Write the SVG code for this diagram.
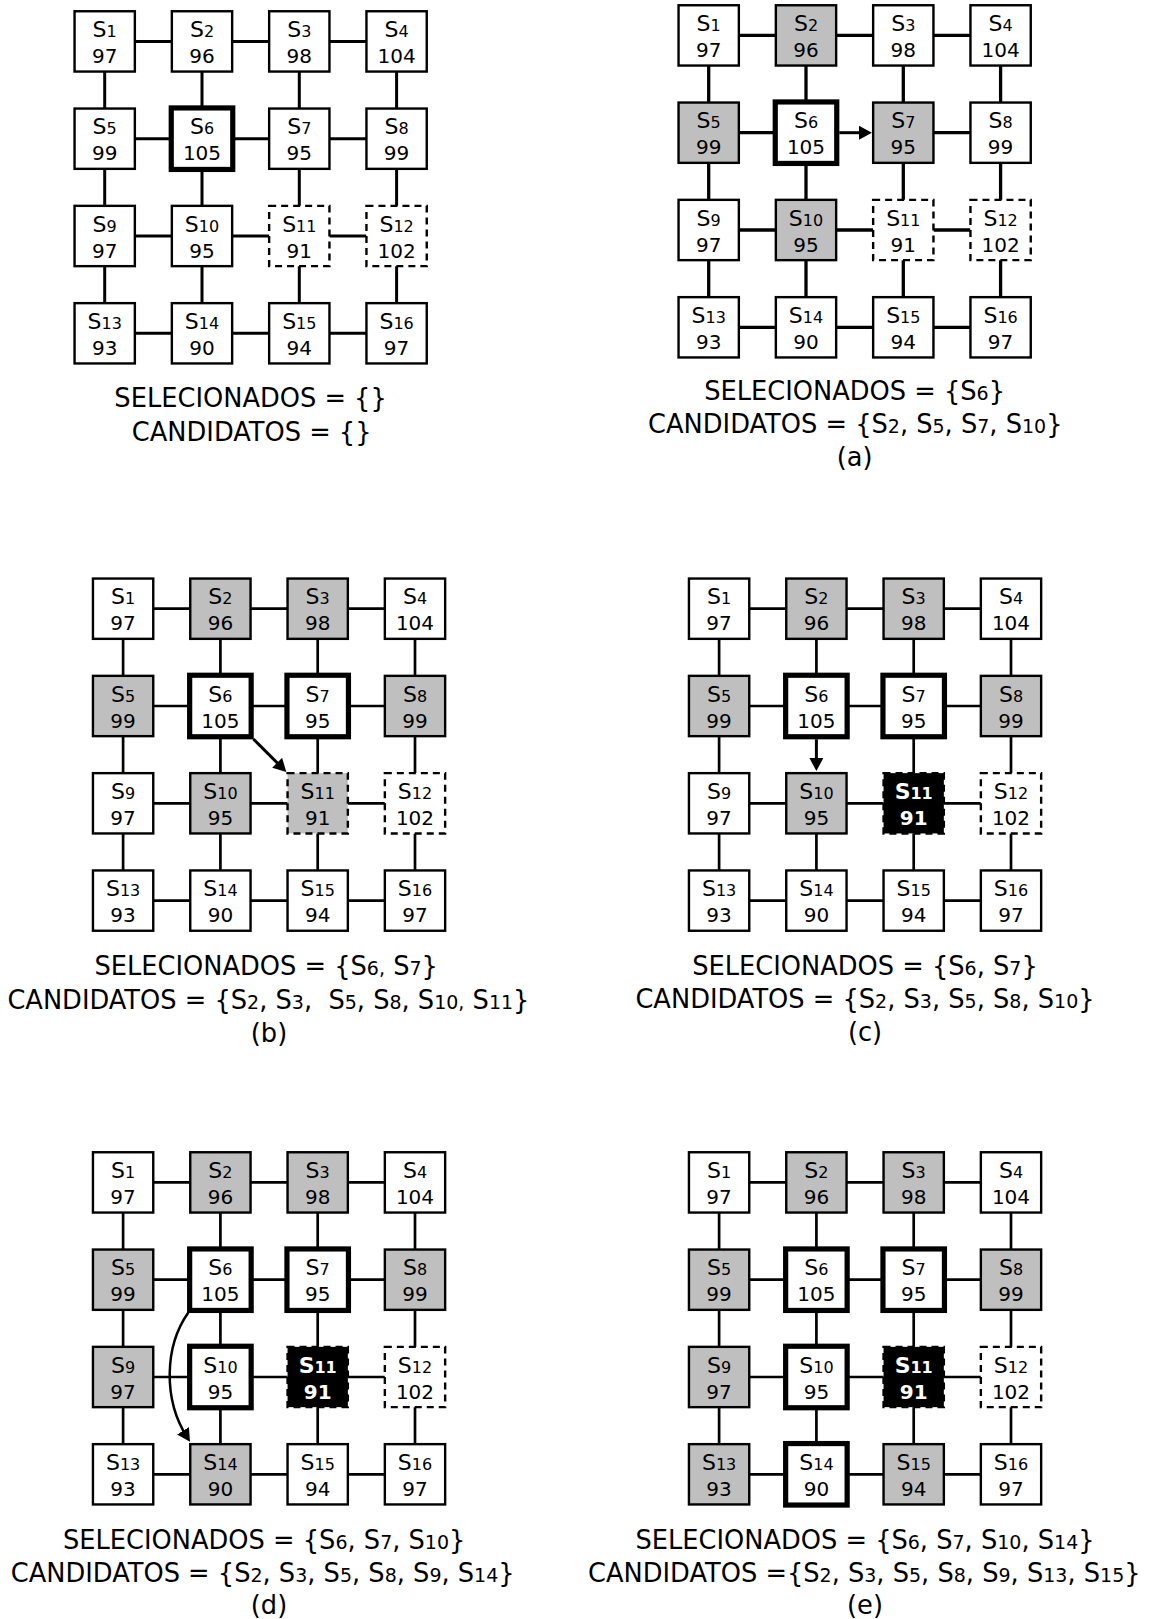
<svg xmlns="http://www.w3.org/2000/svg" width="1153" height="1619" viewBox="0 0 1153 1619">
<defs>
<style>
text{font-family:"DejaVu Sans","Liberation Sans",sans-serif;text-anchor:middle;fill:#000}
.l{font-size:22px}
.sb{font-size:16px}
.v{font-size:20px}
.n rect{fill:#fff;stroke:#000;stroke-width:2.4}
.g rect{fill:#bfbfbf;stroke:#000;stroke-width:2.4}
.t rect{fill:#fff;stroke:#000;stroke-width:5.2}
.d rect{fill:#fff;stroke:#000;stroke-width:2.4;stroke-dasharray:7 5}
.dg rect{fill:#bfbfbf;stroke:#000;stroke-width:2.4;stroke-dasharray:7 5}
.k rect{fill:#000;stroke:#000;stroke-width:2.4;stroke-dasharray:7 5}
.k text{fill:#fff;font-weight:bold}
.e line{stroke:#000;stroke-width:2.7}
.e0 line{stroke-width:3}
.ea line{stroke-width:3.3}
.arr{stroke:#000;stroke-width:3;fill:none;marker-end:url(#ah)}
.cap{font-size:25.7px;white-space:pre}
.cs{font-size:19px}
</style>
<marker id="ah" markerUnits="userSpaceOnUse" markerWidth="13" markerHeight="14" viewBox="0 0 13 14" refX="8" refY="7" orient="auto"><path d="M0,0 L13,7 L0,14 z" fill="#000"/></marker>
</defs>

<!-- ========== Panel 0 ========== -->
<g id="panel0" transform="translate(73.3,10)">
<g id="p0-connectors" class="e e0">
<line x1="61.55" y1="31.4" x2="98.55" y2="31.4"/><line x1="158.85" y1="31.4" x2="195.85" y2="31.4"/><line x1="256.15" y1="31.4" x2="293.15" y2="31.4"/>
<line x1="61.55" y1="128.7" x2="98.55" y2="128.7"/><line x1="158.85" y1="128.7" x2="195.85" y2="128.7"/><line x1="256.15" y1="128.7" x2="293.15" y2="128.7"/>
<line x1="61.55" y1="226" x2="98.55" y2="226"/><line x1="158.85" y1="226" x2="195.85" y2="226"/><line x1="256.15" y1="226" x2="293.15" y2="226"/>
<line x1="61.55" y1="323.3" x2="98.55" y2="323.3"/><line x1="158.85" y1="323.3" x2="195.85" y2="323.3"/><line x1="256.15" y1="323.3" x2="293.15" y2="323.3"/>
<line x1="31.4" y1="61.55" x2="31.4" y2="98.55"/><line x1="31.4" y1="158.85" x2="31.4" y2="195.85"/><line x1="31.4" y1="256.15" x2="31.4" y2="293.15"/>
<line x1="128.7" y1="61.55" x2="128.7" y2="98.55"/><line x1="128.7" y1="158.85" x2="128.7" y2="195.85"/><line x1="128.7" y1="256.15" x2="128.7" y2="293.15"/>
<line x1="226" y1="61.55" x2="226" y2="98.55"/><line x1="226" y1="158.85" x2="226" y2="195.85"/><line x1="226" y1="256.15" x2="226" y2="293.15"/>
<line x1="323.3" y1="61.55" x2="323.3" y2="98.55"/><line x1="323.3" y1="158.85" x2="323.3" y2="195.85"/><line x1="323.3" y1="256.15" x2="323.3" y2="293.15"/>
</g>
<g id="p0-s1" class="n" transform="translate(0,0)"><rect x="1.25" y="1.25" width="60.3" height="60.3"/><text class="l" x="31.4" y="27.2">S<tspan class="sb">1</tspan></text><text class="v" x="31.4" y="53.1">97</text></g>
<g id="p0-s2" class="n" transform="translate(97.3,0)"><rect x="1.25" y="1.25" width="60.3" height="60.3"/><text class="l" x="31.4" y="27.2">S<tspan class="sb">2</tspan></text><text class="v" x="31.4" y="53.1">96</text></g>
<g id="p0-s3" class="n" transform="translate(194.6,0)"><rect x="1.25" y="1.25" width="60.3" height="60.3"/><text class="l" x="31.4" y="27.2">S<tspan class="sb">3</tspan></text><text class="v" x="31.4" y="53.1">98</text></g>
<g id="p0-s4" class="n" transform="translate(291.9,0)"><rect x="1.25" y="1.25" width="60.3" height="60.3"/><text class="l" x="31.4" y="27.2">S<tspan class="sb">4</tspan></text><text class="v" x="31.4" y="53.1">104</text></g>
<g id="p0-s5" class="n" transform="translate(0,97.3)"><rect x="1.25" y="1.25" width="60.3" height="60.3"/><text class="l" x="31.4" y="27.2">S<tspan class="sb">5</tspan></text><text class="v" x="31.4" y="53.1">99</text></g>
<g id="p0-s6" class="t" transform="translate(97.3,97.3)"><rect x="0.65" y="0.65" width="61.5" height="61.5"/><text class="l" x="31.4" y="27.2">S<tspan class="sb">6</tspan></text><text class="v" x="31.4" y="53.1">105</text></g>
<g id="p0-s7" class="n" transform="translate(194.6,97.3)"><rect x="1.25" y="1.25" width="60.3" height="60.3"/><text class="l" x="31.4" y="27.2">S<tspan class="sb">7</tspan></text><text class="v" x="31.4" y="53.1">95</text></g>
<g id="p0-s8" class="n" transform="translate(291.9,97.3)"><rect x="1.25" y="1.25" width="60.3" height="60.3"/><text class="l" x="31.4" y="27.2">S<tspan class="sb">8</tspan></text><text class="v" x="31.4" y="53.1">99</text></g>
<g id="p0-s9" class="n" transform="translate(0,194.6)"><rect x="1.25" y="1.25" width="60.3" height="60.3"/><text class="l" x="31.4" y="27.2">S<tspan class="sb">9</tspan></text><text class="v" x="31.4" y="53.1">97</text></g>
<g id="p0-s10" class="n" transform="translate(97.3,194.6)"><rect x="1.25" y="1.25" width="60.3" height="60.3"/><text class="l" x="31.4" y="27.2">S<tspan class="sb">10</tspan></text><text class="v" x="31.4" y="53.1">95</text></g>
<g id="p0-s11" class="d" transform="translate(194.6,194.6)"><rect x="1.25" y="1.25" width="60.3" height="60.3"/><text class="l" x="31.4" y="27.2">S<tspan class="sb">11</tspan></text><text class="v" x="31.4" y="53.1">91</text></g>
<g id="p0-s12" class="d" transform="translate(291.9,194.6)"><rect x="1.25" y="1.25" width="60.3" height="60.3"/><text class="l" x="31.4" y="27.2">S<tspan class="sb">12</tspan></text><text class="v" x="31.4" y="53.1">102</text></g>
<g id="p0-s13" class="n" transform="translate(0,291.9)"><rect x="1.25" y="1.25" width="60.3" height="60.3"/><text class="l" x="31.4" y="27.2">S<tspan class="sb">13</tspan></text><text class="v" x="31.4" y="53.1">93</text></g>
<g id="p0-s14" class="n" transform="translate(97.3,291.9)"><rect x="1.25" y="1.25" width="60.3" height="60.3"/><text class="l" x="31.4" y="27.2">S<tspan class="sb">14</tspan></text><text class="v" x="31.4" y="53.1">90</text></g>
<g id="p0-s15" class="n" transform="translate(194.6,291.9)"><rect x="1.25" y="1.25" width="60.3" height="60.3"/><text class="l" x="31.4" y="27.2">S<tspan class="sb">15</tspan></text><text class="v" x="31.4" y="53.1">94</text></g>
<g id="p0-s16" class="n" transform="translate(291.9,291.9)"><rect x="1.25" y="1.25" width="60.3" height="60.3"/><text class="l" x="31.4" y="27.2">S<tspan class="sb">16</tspan></text><text class="v" x="31.4" y="53.1">97</text></g>
<g id="p0-caption">
<text class="cap" x="177.3" y="397.3">SELECIONADOS = {}</text>
<text class="cap" x="178.4" y="430.7">CANDIDATOS = {}</text>
</g>
</g>

<!-- ========== Panel a ========== -->
<g id="panelA" transform="translate(677.3,4)">
<g id="pa-connectors" class="e ea">
<line x1="61.55" y1="31.4" x2="98.55" y2="31.4"/><line x1="158.85" y1="31.4" x2="195.85" y2="31.4"/><line x1="256.15" y1="31.4" x2="293.15" y2="31.4"/>
<line x1="61.55" y1="128.7" x2="98.55" y2="128.7"/><line x1="256.15" y1="128.7" x2="293.15" y2="128.7"/>
<line x1="61.55" y1="226" x2="98.55" y2="226"/><line x1="158.85" y1="226" x2="195.85" y2="226"/><line x1="256.15" y1="226" x2="293.15" y2="226"/>
<line x1="61.55" y1="323.3" x2="98.55" y2="323.3"/><line x1="158.85" y1="323.3" x2="195.85" y2="323.3"/><line x1="256.15" y1="323.3" x2="293.15" y2="323.3"/>
<line x1="31.4" y1="61.55" x2="31.4" y2="98.55"/><line x1="31.4" y1="158.85" x2="31.4" y2="195.85"/><line x1="31.4" y1="256.15" x2="31.4" y2="293.15"/>
<line x1="128.7" y1="61.55" x2="128.7" y2="98.55"/><line x1="128.7" y1="158.85" x2="128.7" y2="195.85"/><line x1="128.7" y1="256.15" x2="128.7" y2="293.15"/>
<line x1="226" y1="61.55" x2="226" y2="98.55"/><line x1="226" y1="158.85" x2="226" y2="195.85"/><line x1="226" y1="256.15" x2="226" y2="293.15"/>
<line x1="323.3" y1="61.55" x2="323.3" y2="98.55"/><line x1="323.3" y1="158.85" x2="323.3" y2="195.85"/><line x1="323.3" y1="256.15" x2="323.3" y2="293.15"/>
<path id="pa-arrow-s6-s7" class="arr" d="M162,128.7 L189.6,128.7"/>
</g>
<g id="pa-s1" class="n" transform="translate(0,0)"><rect x="1.25" y="1.25" width="60.3" height="60.3"/><text class="l" x="31.4" y="27.2">S<tspan class="sb">1</tspan></text><text class="v" x="31.4" y="53.1">97</text></g>
<g id="pa-s2" class="g" transform="translate(97.3,0)"><rect x="1.25" y="1.25" width="60.3" height="60.3"/><text class="l" x="31.4" y="27.2">S<tspan class="sb">2</tspan></text><text class="v" x="31.4" y="53.1">96</text></g>
<g id="pa-s3" class="n" transform="translate(194.6,0)"><rect x="1.25" y="1.25" width="60.3" height="60.3"/><text class="l" x="31.4" y="27.2">S<tspan class="sb">3</tspan></text><text class="v" x="31.4" y="53.1">98</text></g>
<g id="pa-s4" class="n" transform="translate(291.9,0)"><rect x="1.25" y="1.25" width="60.3" height="60.3"/><text class="l" x="31.4" y="27.2">S<tspan class="sb">4</tspan></text><text class="v" x="31.4" y="53.1">104</text></g>
<g id="pa-s5" class="g" transform="translate(0,97.3)"><rect x="1.25" y="1.25" width="60.3" height="60.3"/><text class="l" x="31.4" y="27.2">S<tspan class="sb">5</tspan></text><text class="v" x="31.4" y="53.1">99</text></g>
<g id="pa-s6" class="t" transform="translate(97.3,97.3)"><rect x="0.65" y="0.65" width="61.5" height="61.5"/><text class="l" x="31.4" y="27.2">S<tspan class="sb">6</tspan></text><text class="v" x="31.4" y="53.1">105</text></g>
<g id="pa-s7" class="g" transform="translate(194.6,97.3)"><rect x="1.25" y="1.25" width="60.3" height="60.3"/><text class="l" x="31.4" y="27.2">S<tspan class="sb">7</tspan></text><text class="v" x="31.4" y="53.1">95</text></g>
<g id="pa-s8" class="n" transform="translate(291.9,97.3)"><rect x="1.25" y="1.25" width="60.3" height="60.3"/><text class="l" x="31.4" y="27.2">S<tspan class="sb">8</tspan></text><text class="v" x="31.4" y="53.1">99</text></g>
<g id="pa-s9" class="n" transform="translate(0,194.6)"><rect x="1.25" y="1.25" width="60.3" height="60.3"/><text class="l" x="31.4" y="27.2">S<tspan class="sb">9</tspan></text><text class="v" x="31.4" y="53.1">97</text></g>
<g id="pa-s10" class="g" transform="translate(97.3,194.6)"><rect x="1.25" y="1.25" width="60.3" height="60.3"/><text class="l" x="31.4" y="27.2">S<tspan class="sb">10</tspan></text><text class="v" x="31.4" y="53.1">95</text></g>
<g id="pa-s11" class="d" transform="translate(194.6,194.6)"><rect x="1.25" y="1.25" width="60.3" height="60.3"/><text class="l" x="31.4" y="27.2">S<tspan class="sb">11</tspan></text><text class="v" x="31.4" y="53.1">91</text></g>
<g id="pa-s12" class="d" transform="translate(291.9,194.6)"><rect x="1.25" y="1.25" width="60.3" height="60.3"/><text class="l" x="31.4" y="27.2">S<tspan class="sb">12</tspan></text><text class="v" x="31.4" y="53.1">102</text></g>
<g id="pa-s13" class="n" transform="translate(0,291.9)"><rect x="1.25" y="1.25" width="60.3" height="60.3"/><text class="l" x="31.4" y="27.2">S<tspan class="sb">13</tspan></text><text class="v" x="31.4" y="53.1">93</text></g>
<g id="pa-s14" class="n" transform="translate(97.3,291.9)"><rect x="1.25" y="1.25" width="60.3" height="60.3"/><text class="l" x="31.4" y="27.2">S<tspan class="sb">14</tspan></text><text class="v" x="31.4" y="53.1">90</text></g>
<g id="pa-s15" class="n" transform="translate(194.6,291.9)"><rect x="1.25" y="1.25" width="60.3" height="60.3"/><text class="l" x="31.4" y="27.2">S<tspan class="sb">15</tspan></text><text class="v" x="31.4" y="53.1">94</text></g>
<g id="pa-s16" class="n" transform="translate(291.9,291.9)"><rect x="1.25" y="1.25" width="60.3" height="60.3"/><text class="l" x="31.4" y="27.2">S<tspan class="sb">16</tspan></text><text class="v" x="31.4" y="53.1">97</text></g>
<g id="pa-caption">
<text class="cap" x="177.3" y="396">SELECIONADOS = {S<tspan class="cs">6</tspan>}</text>
<text class="cap" x="178" y="429.3">CANDIDATOS = {S<tspan class="cs">2</tspan>, S<tspan class="cs">5</tspan>, S<tspan class="cs">7</tspan>, S<tspan class="cs">10</tspan>}</text>
<text class="cap" x="177.3" y="462">(a)</text>
</g>
</g>

<!-- ========== Panel b ========== -->
<g id="panelB" transform="translate(91.7,577.3)">
<g id="pb-connectors" class="e">
<line x1="61.55" y1="31.4" x2="98.55" y2="31.4"/><line x1="158.85" y1="31.4" x2="195.85" y2="31.4"/><line x1="256.15" y1="31.4" x2="293.15" y2="31.4"/>
<line x1="61.55" y1="128.7" x2="98.55" y2="128.7"/><line x1="158.85" y1="128.7" x2="195.85" y2="128.7"/><line x1="256.15" y1="128.7" x2="293.15" y2="128.7"/>
<line x1="61.55" y1="226" x2="98.55" y2="226"/><line x1="158.85" y1="226" x2="195.85" y2="226"/><line x1="256.15" y1="226" x2="293.15" y2="226"/>
<line x1="61.55" y1="323.3" x2="98.55" y2="323.3"/><line x1="158.85" y1="323.3" x2="195.85" y2="323.3"/><line x1="256.15" y1="323.3" x2="293.15" y2="323.3"/>
<line x1="31.4" y1="61.55" x2="31.4" y2="98.55"/><line x1="31.4" y1="158.85" x2="31.4" y2="195.85"/><line x1="31.4" y1="256.15" x2="31.4" y2="293.15"/>
<line x1="128.7" y1="61.55" x2="128.7" y2="98.55"/><line x1="128.7" y1="158.85" x2="128.7" y2="195.85"/><line x1="128.7" y1="256.15" x2="128.7" y2="293.15"/>
<line x1="226" y1="61.55" x2="226" y2="98.55"/><line x1="226" y1="158.85" x2="226" y2="195.85"/><line x1="226" y1="256.15" x2="226" y2="293.15"/>
<line x1="323.3" y1="61.55" x2="323.3" y2="98.55"/><line x1="323.3" y1="158.85" x2="323.3" y2="195.85"/><line x1="323.3" y1="256.15" x2="323.3" y2="293.15"/>
<path id="pb-arrow-s6-s11" class="arr" d="M161.7,161.7 L191.1,191.1"/>
</g>
<g id="pb-s1" class="n" transform="translate(0,0)"><rect x="1.25" y="1.25" width="60.3" height="60.3"/><text class="l" x="31.4" y="27.2">S<tspan class="sb">1</tspan></text><text class="v" x="31.4" y="53.1">97</text></g>
<g id="pb-s2" class="g" transform="translate(97.3,0)"><rect x="1.25" y="1.25" width="60.3" height="60.3"/><text class="l" x="31.4" y="27.2">S<tspan class="sb">2</tspan></text><text class="v" x="31.4" y="53.1">96</text></g>
<g id="pb-s3" class="g" transform="translate(194.6,0)"><rect x="1.25" y="1.25" width="60.3" height="60.3"/><text class="l" x="31.4" y="27.2">S<tspan class="sb">3</tspan></text><text class="v" x="31.4" y="53.1">98</text></g>
<g id="pb-s4" class="n" transform="translate(291.9,0)"><rect x="1.25" y="1.25" width="60.3" height="60.3"/><text class="l" x="31.4" y="27.2">S<tspan class="sb">4</tspan></text><text class="v" x="31.4" y="53.1">104</text></g>
<g id="pb-s5" class="g" transform="translate(0,97.3)"><rect x="1.25" y="1.25" width="60.3" height="60.3"/><text class="l" x="31.4" y="27.2">S<tspan class="sb">5</tspan></text><text class="v" x="31.4" y="53.1">99</text></g>
<g id="pb-s6" class="t" transform="translate(97.3,97.3)"><rect x="0.65" y="0.65" width="61.5" height="61.5"/><text class="l" x="31.4" y="27.2">S<tspan class="sb">6</tspan></text><text class="v" x="31.4" y="53.1">105</text></g>
<g id="pb-s7" class="t" transform="translate(194.6,97.3)"><rect x="0.65" y="0.65" width="61.5" height="61.5"/><text class="l" x="31.4" y="27.2">S<tspan class="sb">7</tspan></text><text class="v" x="31.4" y="53.1">95</text></g>
<g id="pb-s8" class="g" transform="translate(291.9,97.3)"><rect x="1.25" y="1.25" width="60.3" height="60.3"/><text class="l" x="31.4" y="27.2">S<tspan class="sb">8</tspan></text><text class="v" x="31.4" y="53.1">99</text></g>
<g id="pb-s9" class="n" transform="translate(0,194.6)"><rect x="1.25" y="1.25" width="60.3" height="60.3"/><text class="l" x="31.4" y="27.2">S<tspan class="sb">9</tspan></text><text class="v" x="31.4" y="53.1">97</text></g>
<g id="pb-s10" class="g" transform="translate(97.3,194.6)"><rect x="1.25" y="1.25" width="60.3" height="60.3"/><text class="l" x="31.4" y="27.2">S<tspan class="sb">10</tspan></text><text class="v" x="31.4" y="53.1">95</text></g>
<g id="pb-s11" class="dg" transform="translate(194.6,194.6)"><rect x="1.25" y="1.25" width="60.3" height="60.3"/><text class="l" x="31.4" y="27.2">S<tspan class="sb">11</tspan></text><text class="v" x="31.4" y="53.1">91</text></g>
<g id="pb-s12" class="d" transform="translate(291.9,194.6)"><rect x="1.25" y="1.25" width="60.3" height="60.3"/><text class="l" x="31.4" y="27.2">S<tspan class="sb">12</tspan></text><text class="v" x="31.4" y="53.1">102</text></g>
<g id="pb-s13" class="n" transform="translate(0,291.9)"><rect x="1.25" y="1.25" width="60.3" height="60.3"/><text class="l" x="31.4" y="27.2">S<tspan class="sb">13</tspan></text><text class="v" x="31.4" y="53.1">93</text></g>
<g id="pb-s14" class="n" transform="translate(97.3,291.9)"><rect x="1.25" y="1.25" width="60.3" height="60.3"/><text class="l" x="31.4" y="27.2">S<tspan class="sb">14</tspan></text><text class="v" x="31.4" y="53.1">90</text></g>
<g id="pb-s15" class="n" transform="translate(194.6,291.9)"><rect x="1.25" y="1.25" width="60.3" height="60.3"/><text class="l" x="31.4" y="27.2">S<tspan class="sb">15</tspan></text><text class="v" x="31.4" y="53.1">94</text></g>
<g id="pb-s16" class="n" transform="translate(291.9,291.9)"><rect x="1.25" y="1.25" width="60.3" height="60.3"/><text class="l" x="31.4" y="27.2">S<tspan class="sb">16</tspan></text><text class="v" x="31.4" y="53.1">97</text></g>
<g id="pb-caption">
<text class="cap" x="174.5" y="398.2">SELECIONADOS = {S<tspan class="cs">6,</tspan> S<tspan class="cs">7</tspan>}</text>
<text class="cap" x="176.7" y="431.7">CANDIDATOS = {S<tspan class="cs">2</tspan>, S<tspan class="cs">3</tspan>,  S<tspan class="cs">5</tspan>, S<tspan class="cs">8</tspan>, S<tspan class="cs">10,</tspan> S<tspan class="cs">11</tspan>}</text>
<text class="cap" x="177.3" y="464.7">(b)</text>
</g>
</g>

<!-- ========== Panel c ========== -->
<g id="panelC" transform="translate(687.7,577.3)">
<g id="pc-connectors" class="e">
<line x1="61.55" y1="31.4" x2="98.55" y2="31.4"/><line x1="158.85" y1="31.4" x2="195.85" y2="31.4"/><line x1="256.15" y1="31.4" x2="293.15" y2="31.4"/>
<line x1="61.55" y1="128.7" x2="98.55" y2="128.7"/><line x1="158.85" y1="128.7" x2="195.85" y2="128.7"/><line x1="256.15" y1="128.7" x2="293.15" y2="128.7"/>
<line x1="61.55" y1="226" x2="98.55" y2="226"/><line x1="158.85" y1="226" x2="195.85" y2="226"/><line x1="256.15" y1="226" x2="293.15" y2="226"/>
<line x1="61.55" y1="323.3" x2="98.55" y2="323.3"/><line x1="158.85" y1="323.3" x2="195.85" y2="323.3"/><line x1="256.15" y1="323.3" x2="293.15" y2="323.3"/>
<line x1="31.4" y1="61.55" x2="31.4" y2="98.55"/><line x1="31.4" y1="158.85" x2="31.4" y2="195.85"/><line x1="31.4" y1="256.15" x2="31.4" y2="293.15"/>
<line x1="128.7" y1="61.55" x2="128.7" y2="98.55"/><line x1="128.7" y1="256.15" x2="128.7" y2="293.15"/>
<line x1="226" y1="61.55" x2="226" y2="98.55"/><line x1="226" y1="158.85" x2="226" y2="195.85"/><line x1="226" y1="256.15" x2="226" y2="293.15"/>
<line x1="323.3" y1="61.55" x2="323.3" y2="98.55"/><line x1="323.3" y1="158.85" x2="323.3" y2="195.85"/><line x1="323.3" y1="256.15" x2="323.3" y2="293.15"/>
<path id="pc-arrow-s6-s10" class="arr" d="M128.7,162 L128.7,188.7"/>
</g>
<g id="pc-s1" class="n" transform="translate(0,0)"><rect x="1.25" y="1.25" width="60.3" height="60.3"/><text class="l" x="31.4" y="27.2">S<tspan class="sb">1</tspan></text><text class="v" x="31.4" y="53.1">97</text></g>
<g id="pc-s2" class="g" transform="translate(97.3,0)"><rect x="1.25" y="1.25" width="60.3" height="60.3"/><text class="l" x="31.4" y="27.2">S<tspan class="sb">2</tspan></text><text class="v" x="31.4" y="53.1">96</text></g>
<g id="pc-s3" class="g" transform="translate(194.6,0)"><rect x="1.25" y="1.25" width="60.3" height="60.3"/><text class="l" x="31.4" y="27.2">S<tspan class="sb">3</tspan></text><text class="v" x="31.4" y="53.1">98</text></g>
<g id="pc-s4" class="n" transform="translate(291.9,0)"><rect x="1.25" y="1.25" width="60.3" height="60.3"/><text class="l" x="31.4" y="27.2">S<tspan class="sb">4</tspan></text><text class="v" x="31.4" y="53.1">104</text></g>
<g id="pc-s5" class="g" transform="translate(0,97.3)"><rect x="1.25" y="1.25" width="60.3" height="60.3"/><text class="l" x="31.4" y="27.2">S<tspan class="sb">5</tspan></text><text class="v" x="31.4" y="53.1">99</text></g>
<g id="pc-s6" class="t" transform="translate(97.3,97.3)"><rect x="0.65" y="0.65" width="61.5" height="61.5"/><text class="l" x="31.4" y="27.2">S<tspan class="sb">6</tspan></text><text class="v" x="31.4" y="53.1">105</text></g>
<g id="pc-s7" class="t" transform="translate(194.6,97.3)"><rect x="0.65" y="0.65" width="61.5" height="61.5"/><text class="l" x="31.4" y="27.2">S<tspan class="sb">7</tspan></text><text class="v" x="31.4" y="53.1">95</text></g>
<g id="pc-s8" class="g" transform="translate(291.9,97.3)"><rect x="1.25" y="1.25" width="60.3" height="60.3"/><text class="l" x="31.4" y="27.2">S<tspan class="sb">8</tspan></text><text class="v" x="31.4" y="53.1">99</text></g>
<g id="pc-s9" class="n" transform="translate(0,194.6)"><rect x="1.25" y="1.25" width="60.3" height="60.3"/><text class="l" x="31.4" y="27.2">S<tspan class="sb">9</tspan></text><text class="v" x="31.4" y="53.1">97</text></g>
<g id="pc-s10" class="g" transform="translate(97.3,194.6)"><rect x="1.25" y="1.25" width="60.3" height="60.3"/><text class="l" x="31.4" y="27.2">S<tspan class="sb">10</tspan></text><text class="v" x="31.4" y="53.1">95</text></g>
<g id="pc-s11" class="k" transform="translate(194.6,194.6)"><rect x="1.25" y="1.25" width="60.3" height="60.3"/><text class="l" x="31.4" y="27.2">S<tspan class="sb">11</tspan></text><text class="v" x="31.4" y="53.1">91</text></g>
<g id="pc-s12" class="d" transform="translate(291.9,194.6)"><rect x="1.25" y="1.25" width="60.3" height="60.3"/><text class="l" x="31.4" y="27.2">S<tspan class="sb">12</tspan></text><text class="v" x="31.4" y="53.1">102</text></g>
<g id="pc-s13" class="n" transform="translate(0,291.9)"><rect x="1.25" y="1.25" width="60.3" height="60.3"/><text class="l" x="31.4" y="27.2">S<tspan class="sb">13</tspan></text><text class="v" x="31.4" y="53.1">93</text></g>
<g id="pc-s14" class="n" transform="translate(97.3,291.9)"><rect x="1.25" y="1.25" width="60.3" height="60.3"/><text class="l" x="31.4" y="27.2">S<tspan class="sb">14</tspan></text><text class="v" x="31.4" y="53.1">90</text></g>
<g id="pc-s15" class="n" transform="translate(194.6,291.9)"><rect x="1.25" y="1.25" width="60.3" height="60.3"/><text class="l" x="31.4" y="27.2">S<tspan class="sb">15</tspan></text><text class="v" x="31.4" y="53.1">94</text></g>
<g id="pc-s16" class="n" transform="translate(291.9,291.9)"><rect x="1.25" y="1.25" width="60.3" height="60.3"/><text class="l" x="31.4" y="27.2">S<tspan class="sb">16</tspan></text><text class="v" x="31.4" y="53.1">97</text></g>
<g id="pc-caption">
<text class="cap" x="177.3" y="397.7">SELECIONADOS = {S<tspan class="cs">6</tspan>, S<tspan class="cs">7</tspan>}</text>
<text class="cap" x="177.3" y="430.7">CANDIDATOS = {S<tspan class="cs">2</tspan>, S<tspan class="cs">3</tspan>, S<tspan class="cs">5</tspan>, S<tspan class="cs">8</tspan>, S<tspan class="cs">10</tspan>}</text>
<text class="cap" x="177.3" y="463.7">(c)</text>
</g>
</g>

<!-- ========== Panel d ========== -->
<g id="panelD" transform="translate(91.7,1151)">
<g id="pd-connectors" class="e">
<line x1="61.55" y1="31.4" x2="98.55" y2="31.4"/><line x1="158.85" y1="31.4" x2="195.85" y2="31.4"/><line x1="256.15" y1="31.4" x2="293.15" y2="31.4"/>
<line x1="61.55" y1="128.7" x2="98.55" y2="128.7"/><line x1="158.85" y1="128.7" x2="195.85" y2="128.7"/><line x1="256.15" y1="128.7" x2="293.15" y2="128.7"/>
<line x1="61.55" y1="226" x2="98.55" y2="226"/><line x1="158.85" y1="226" x2="195.85" y2="226"/><line x1="256.15" y1="226" x2="293.15" y2="226"/>
<line x1="61.55" y1="323.3" x2="98.55" y2="323.3"/><line x1="158.85" y1="323.3" x2="195.85" y2="323.3"/><line x1="256.15" y1="323.3" x2="293.15" y2="323.3"/>
<line x1="31.4" y1="61.55" x2="31.4" y2="98.55"/><line x1="31.4" y1="158.85" x2="31.4" y2="195.85"/><line x1="31.4" y1="256.15" x2="31.4" y2="293.15"/>
<line x1="128.7" y1="61.55" x2="128.7" y2="98.55"/><line x1="128.7" y1="158.85" x2="128.7" y2="195.85"/><line x1="128.7" y1="256.15" x2="128.7" y2="293.15"/>
<line x1="226" y1="61.55" x2="226" y2="98.55"/><line x1="226" y1="158.85" x2="226" y2="195.85"/><line x1="226" y1="256.15" x2="226" y2="293.15"/>
<line x1="323.3" y1="61.55" x2="323.3" y2="98.55"/><line x1="323.3" y1="158.85" x2="323.3" y2="195.85"/><line x1="323.3" y1="256.15" x2="323.3" y2="293.15"/>
<path id="pd-arrow-s6-s14" class="arr" style="stroke-width:2.5" d="M96.5,161.7 C73,195 71,248 95.6,286.5"/>
</g>
<g id="pd-s1" class="n" transform="translate(0,0)"><rect x="1.25" y="1.25" width="60.3" height="60.3"/><text class="l" x="31.4" y="27.2">S<tspan class="sb">1</tspan></text><text class="v" x="31.4" y="53.1">97</text></g>
<g id="pd-s2" class="g" transform="translate(97.3,0)"><rect x="1.25" y="1.25" width="60.3" height="60.3"/><text class="l" x="31.4" y="27.2">S<tspan class="sb">2</tspan></text><text class="v" x="31.4" y="53.1">96</text></g>
<g id="pd-s3" class="g" transform="translate(194.6,0)"><rect x="1.25" y="1.25" width="60.3" height="60.3"/><text class="l" x="31.4" y="27.2">S<tspan class="sb">3</tspan></text><text class="v" x="31.4" y="53.1">98</text></g>
<g id="pd-s4" class="n" transform="translate(291.9,0)"><rect x="1.25" y="1.25" width="60.3" height="60.3"/><text class="l" x="31.4" y="27.2">S<tspan class="sb">4</tspan></text><text class="v" x="31.4" y="53.1">104</text></g>
<g id="pd-s5" class="g" transform="translate(0,97.3)"><rect x="1.25" y="1.25" width="60.3" height="60.3"/><text class="l" x="31.4" y="27.2">S<tspan class="sb">5</tspan></text><text class="v" x="31.4" y="53.1">99</text></g>
<g id="pd-s6" class="t" transform="translate(97.3,97.3)"><rect x="0.65" y="0.65" width="61.5" height="61.5"/><text class="l" x="31.4" y="27.2">S<tspan class="sb">6</tspan></text><text class="v" x="31.4" y="53.1">105</text></g>
<g id="pd-s7" class="t" transform="translate(194.6,97.3)"><rect x="0.65" y="0.65" width="61.5" height="61.5"/><text class="l" x="31.4" y="27.2">S<tspan class="sb">7</tspan></text><text class="v" x="31.4" y="53.1">95</text></g>
<g id="pd-s8" class="g" transform="translate(291.9,97.3)"><rect x="1.25" y="1.25" width="60.3" height="60.3"/><text class="l" x="31.4" y="27.2">S<tspan class="sb">8</tspan></text><text class="v" x="31.4" y="53.1">99</text></g>
<g id="pd-s9" class="g" transform="translate(0,194.6)"><rect x="1.25" y="1.25" width="60.3" height="60.3"/><text class="l" x="31.4" y="27.2">S<tspan class="sb">9</tspan></text><text class="v" x="31.4" y="53.1">97</text></g>
<g id="pd-s10" class="t" transform="translate(97.3,194.6)"><rect x="0.65" y="0.65" width="61.5" height="61.5"/><text class="l" x="31.4" y="27.2">S<tspan class="sb">10</tspan></text><text class="v" x="31.4" y="53.1">95</text></g>
<g id="pd-s11" class="k" transform="translate(194.6,194.6)"><rect x="1.25" y="1.25" width="60.3" height="60.3"/><text class="l" x="31.4" y="27.2">S<tspan class="sb">11</tspan></text><text class="v" x="31.4" y="53.1">91</text></g>
<g id="pd-s12" class="d" transform="translate(291.9,194.6)"><rect x="1.25" y="1.25" width="60.3" height="60.3"/><text class="l" x="31.4" y="27.2">S<tspan class="sb">12</tspan></text><text class="v" x="31.4" y="53.1">102</text></g>
<g id="pd-s13" class="n" transform="translate(0,291.9)"><rect x="1.25" y="1.25" width="60.3" height="60.3"/><text class="l" x="31.4" y="27.2">S<tspan class="sb">13</tspan></text><text class="v" x="31.4" y="53.1">93</text></g>
<g id="pd-s14" class="g" transform="translate(97.3,291.9)"><rect x="1.25" y="1.25" width="60.3" height="60.3"/><text class="l" x="31.4" y="27.2">S<tspan class="sb">14</tspan></text><text class="v" x="31.4" y="53.1">90</text></g>
<g id="pd-s15" class="n" transform="translate(194.6,291.9)"><rect x="1.25" y="1.25" width="60.3" height="60.3"/><text class="l" x="31.4" y="27.2">S<tspan class="sb">15</tspan></text><text class="v" x="31.4" y="53.1">94</text></g>
<g id="pd-s16" class="n" transform="translate(291.9,291.9)"><rect x="1.25" y="1.25" width="60.3" height="60.3"/><text class="l" x="31.4" y="27.2">S<tspan class="sb">16</tspan></text><text class="v" x="31.4" y="53.1">97</text></g>
<g id="pd-caption">
<text class="cap" x="172.5" y="397.5">SELECIONADOS = {S<tspan class="cs">6</tspan>, S<tspan class="cs">7</tspan>, S<tspan class="cs">10</tspan>}</text>
<text class="cap" x="171" y="430.7">CANDIDATOS = {S<tspan class="cs">2</tspan>, S<tspan class="cs">3</tspan>, S<tspan class="cs">5</tspan>, S<tspan class="cs">8</tspan>, S<tspan class="cs">9</tspan>, S<tspan class="cs">14</tspan>}</text>
<text class="cap" x="177.3" y="463">(d)</text>
</g>
</g>

<!-- ========== Panel e ========== -->
<g id="panelE" transform="translate(687.7,1151)">
<g id="pe-connectors" class="e">
<line x1="61.55" y1="31.4" x2="98.55" y2="31.4"/><line x1="158.85" y1="31.4" x2="195.85" y2="31.4"/><line x1="256.15" y1="31.4" x2="293.15" y2="31.4"/>
<line x1="61.55" y1="128.7" x2="98.55" y2="128.7"/><line x1="158.85" y1="128.7" x2="195.85" y2="128.7"/><line x1="256.15" y1="128.7" x2="293.15" y2="128.7"/>
<line x1="61.55" y1="226" x2="98.55" y2="226"/><line x1="158.85" y1="226" x2="195.85" y2="226"/><line x1="256.15" y1="226" x2="293.15" y2="226"/>
<line x1="61.55" y1="323.3" x2="98.55" y2="323.3"/><line x1="158.85" y1="323.3" x2="195.85" y2="323.3"/><line x1="256.15" y1="323.3" x2="293.15" y2="323.3"/>
<line x1="31.4" y1="61.55" x2="31.4" y2="98.55"/><line x1="31.4" y1="158.85" x2="31.4" y2="195.85"/><line x1="31.4" y1="256.15" x2="31.4" y2="293.15"/>
<line x1="128.7" y1="61.55" x2="128.7" y2="98.55"/><line x1="128.7" y1="158.85" x2="128.7" y2="195.85"/><line x1="128.7" y1="256.15" x2="128.7" y2="293.15"/>
<line x1="226" y1="61.55" x2="226" y2="98.55"/><line x1="226" y1="158.85" x2="226" y2="195.85"/><line x1="226" y1="256.15" x2="226" y2="293.15"/>
<line x1="323.3" y1="61.55" x2="323.3" y2="98.55"/><line x1="323.3" y1="158.85" x2="323.3" y2="195.85"/><line x1="323.3" y1="256.15" x2="323.3" y2="293.15"/>
</g>
<g id="pe-s1" class="n" transform="translate(0,0)"><rect x="1.25" y="1.25" width="60.3" height="60.3"/><text class="l" x="31.4" y="27.2">S<tspan class="sb">1</tspan></text><text class="v" x="31.4" y="53.1">97</text></g>
<g id="pe-s2" class="g" transform="translate(97.3,0)"><rect x="1.25" y="1.25" width="60.3" height="60.3"/><text class="l" x="31.4" y="27.2">S<tspan class="sb">2</tspan></text><text class="v" x="31.4" y="53.1">96</text></g>
<g id="pe-s3" class="g" transform="translate(194.6,0)"><rect x="1.25" y="1.25" width="60.3" height="60.3"/><text class="l" x="31.4" y="27.2">S<tspan class="sb">3</tspan></text><text class="v" x="31.4" y="53.1">98</text></g>
<g id="pe-s4" class="n" transform="translate(291.9,0)"><rect x="1.25" y="1.25" width="60.3" height="60.3"/><text class="l" x="31.4" y="27.2">S<tspan class="sb">4</tspan></text><text class="v" x="31.4" y="53.1">104</text></g>
<g id="pe-s5" class="g" transform="translate(0,97.3)"><rect x="1.25" y="1.25" width="60.3" height="60.3"/><text class="l" x="31.4" y="27.2">S<tspan class="sb">5</tspan></text><text class="v" x="31.4" y="53.1">99</text></g>
<g id="pe-s6" class="t" transform="translate(97.3,97.3)"><rect x="0.65" y="0.65" width="61.5" height="61.5"/><text class="l" x="31.4" y="27.2">S<tspan class="sb">6</tspan></text><text class="v" x="31.4" y="53.1">105</text></g>
<g id="pe-s7" class="t" transform="translate(194.6,97.3)"><rect x="0.65" y="0.65" width="61.5" height="61.5"/><text class="l" x="31.4" y="27.2">S<tspan class="sb">7</tspan></text><text class="v" x="31.4" y="53.1">95</text></g>
<g id="pe-s8" class="g" transform="translate(291.9,97.3)"><rect x="1.25" y="1.25" width="60.3" height="60.3"/><text class="l" x="31.4" y="27.2">S<tspan class="sb">8</tspan></text><text class="v" x="31.4" y="53.1">99</text></g>
<g id="pe-s9" class="g" transform="translate(0,194.6)"><rect x="1.25" y="1.25" width="60.3" height="60.3"/><text class="l" x="31.4" y="27.2">S<tspan class="sb">9</tspan></text><text class="v" x="31.4" y="53.1">97</text></g>
<g id="pe-s10" class="t" transform="translate(97.3,194.6)"><rect x="0.65" y="0.65" width="61.5" height="61.5"/><text class="l" x="31.4" y="27.2">S<tspan class="sb">10</tspan></text><text class="v" x="31.4" y="53.1">95</text></g>
<g id="pe-s11" class="k" transform="translate(194.6,194.6)"><rect x="1.25" y="1.25" width="60.3" height="60.3"/><text class="l" x="31.4" y="27.2">S<tspan class="sb">11</tspan></text><text class="v" x="31.4" y="53.1">91</text></g>
<g id="pe-s12" class="d" transform="translate(291.9,194.6)"><rect x="1.25" y="1.25" width="60.3" height="60.3"/><text class="l" x="31.4" y="27.2">S<tspan class="sb">12</tspan></text><text class="v" x="31.4" y="53.1">102</text></g>
<g id="pe-s13" class="g" transform="translate(0,291.9)"><rect x="1.25" y="1.25" width="60.3" height="60.3"/><text class="l" x="31.4" y="27.2">S<tspan class="sb">13</tspan></text><text class="v" x="31.4" y="53.1">93</text></g>
<g id="pe-s14" class="t" transform="translate(97.3,291.9)"><rect x="0.65" y="0.65" width="61.5" height="61.5"/><text class="l" x="31.4" y="27.2">S<tspan class="sb">14</tspan></text><text class="v" x="31.4" y="53.1">90</text></g>
<g id="pe-s15" class="g" transform="translate(194.6,291.9)"><rect x="1.25" y="1.25" width="60.3" height="60.3"/><text class="l" x="31.4" y="27.2">S<tspan class="sb">15</tspan></text><text class="v" x="31.4" y="53.1">94</text></g>
<g id="pe-s16" class="n" transform="translate(291.9,291.9)"><rect x="1.25" y="1.25" width="60.3" height="60.3"/><text class="l" x="31.4" y="27.2">S<tspan class="sb">16</tspan></text><text class="v" x="31.4" y="53.1">97</text></g>
<g id="pe-caption">
<text class="cap" x="177.3" y="397.5">SELECIONADOS = {S<tspan class="cs">6</tspan>, S<tspan class="cs">7</tspan>, S<tspan class="cs">10</tspan>, S<tspan class="cs">14</tspan>}</text>
<text class="cap" x="176.6" y="430.7">CANDIDATOS ={S<tspan class="cs">2</tspan>, S<tspan class="cs">3</tspan>, S<tspan class="cs">5</tspan>, S<tspan class="cs">8</tspan>, S<tspan class="cs">9</tspan>, S<tspan class="cs">13</tspan>, S<tspan class="cs">15</tspan>}</text>
<text class="cap" x="177.3" y="463">(e)</text>
</g>
</g>
</svg>
